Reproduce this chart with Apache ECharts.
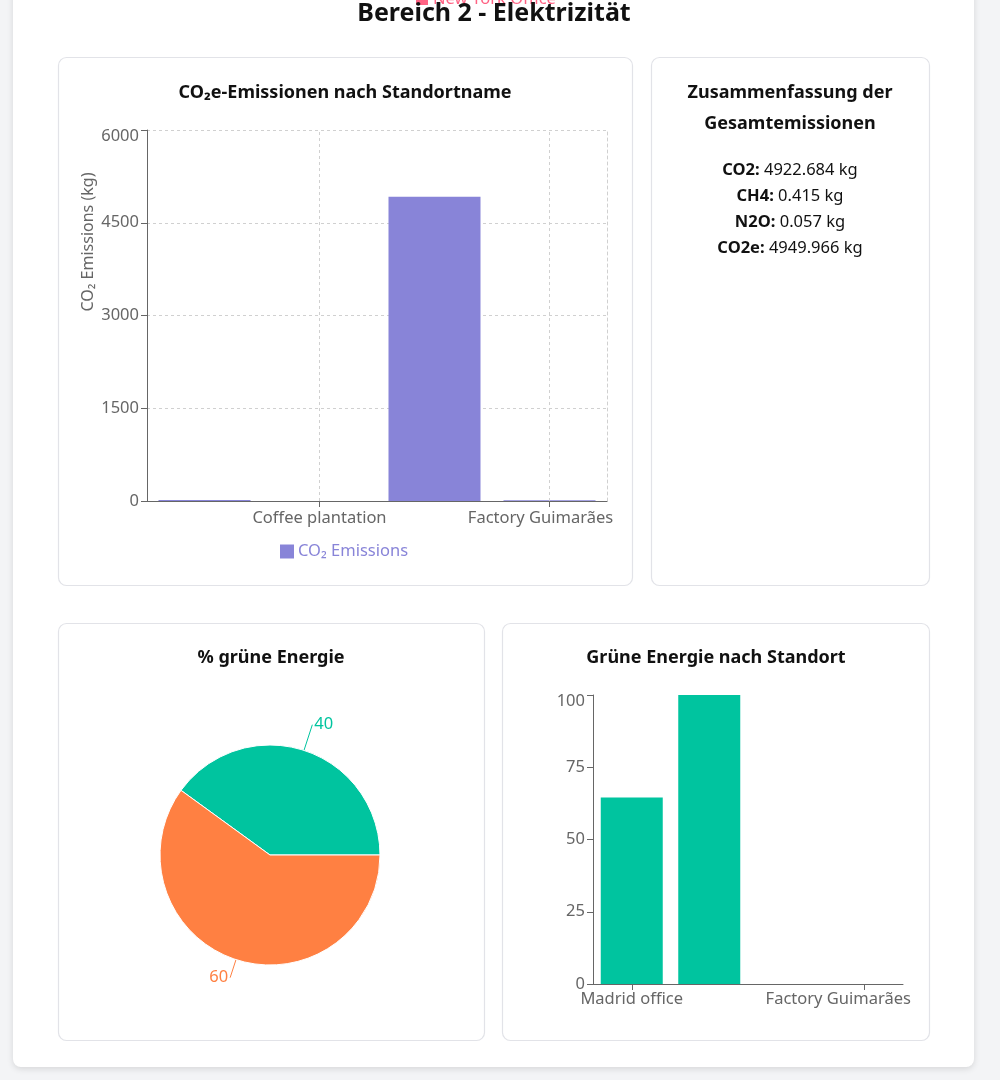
<!DOCTYPE html>
<html><head><meta charset="utf-8">
<script src="https://cdn.jsdelivr.net/npm/echarts@6/dist/echarts.min.js"></script>
<style>html,body{margin:0;padding:0;background:#f3f4f6;overflow:hidden}#c{width:1008px;height:1080px}</style>
</head><body><div id="c"></div>
<script>
// ---- data ----
const sites = ['Madrid office', 'Coffee plantation', 'New York Office', 'Factory Guimarães'];
const co2eBySite = [14.2, 0, 4922.5, 13.3];
const emissionTicks = [0, 1500, 3000, 4500, 6000];
const greenBySite = [64.5, 100, 0, 0];
const greenTicks = [0, 25, 50, 75, 100];
const greenShareNames = ['grün', 'nicht grün'];
const greenShareValues = [40, 60];
const summaryLabels = ['CO2:', 'CH4:', 'N2O:', 'CO2e:'];
const summaryValues = ['4922.684 kg', '0.415 kg', '0.057 kg', '4949.966 kg'];

const FONT = '"Noto Sans", sans-serif';
const AX = 16.5;
const chart = echarts.init(document.getElementById('c'), null, { renderer: 'canvas' });

function card(x, y, w, h) {
  return { type: 'rect', z: -10, shape: { x: x + 0.5, y: y + 0.5, width: w, height: h, r: 8 },
    style: { fill: '#fff', stroke: '#e2e3e8', lineWidth: 1.2 } };
}
function title(x, y, t, size) {
  return { type: 'text', z: 10, x: x, y: y, style: { text: t, font: 'bold ' + (size || 18) + 'px ' + FONT,
    fill: '#111', align: 'center', verticalAlign: 'middle' } };
}
const graphics = [
  { type: 'rect', z: -20, shape: { x: 13, y: -20, width: 961, height: 1087, r: 8 },
    style: { fill: '#fff', shadowBlur: 6, shadowColor: 'rgba(0,0,0,0.12)', shadowOffsetY: 2 } },
  { type: 'rect', z: -20, shape: { x: 1000, y: 0, width: 8, height: 1080 }, style: { fill: '#fff' } },
  { type: 'rect', z: 10, shape: { x: 416, y: -7, width: 12, height: 12 }, style: { fill: '#ff6384' } },
  { type: 'text', z: 10, x: 433, y: -1, style: { text: 'New York Office', font: '16.5px ' + FONT, fill: '#ff6384', verticalAlign: 'middle' } },
  title(494, 14, 'Bereich 2 - Elektrizität', 25),
  card(58, 57, 574, 528),
  card(651, 57, 278, 528),
  card(58, 623, 426, 417),
  card(502, 623, 427, 417),
  title(345, 93, 'CO₂e-Emissionen nach Standortname'),
  title(790, 93, 'Zusammenfassung der'),
  title(790, 124, 'Gesamtemissionen'),
  title(271, 658, '% grüne Energie'),
  title(716, 658, 'Grüne Energie nach Standort'),
  { type: 'text', z: 10, x: 88, y: 242, rotation: Math.PI / 2,
    style: { text: 'CO₂ Emissions (kg)', font: '16px ' + FONT, fill: '#666', align: 'center', verticalAlign: 'middle' } }
];
summaryLabels.forEach((l, i) => {
  graphics.push({ type: 'text', z: 10, x: 790, y: 170 + i * 26,
    style: { text: '{b|' + l + '} ' + summaryValues[i], font: '16.5px ' + FONT, fill: '#111', align: 'center', verticalAlign: 'middle',
      rich: { b: { fontWeight: 'bold', fontSize: 16.5, fontFamily: FONT, fill: '#111' } } } });
});

const axisGray = { lineStyle: { color: '#666', width: 1 } };
const dash = { color: '#d0d0d0', type: [3, 3], width: 1 };
const topShift = (max) => (v) => v === max ? '{t|' + v + '}' : String(v);
const topRich = { t: { color: '#666', fontSize: AX, fontFamily: FONT, padding: [12, 0, 0, 0] } };
const pieLineLen = [27, 19];

function catData(shiftLast) {
  return sites.map((s, i) => i === sites.length - 1
    ? { value: s, textStyle: { padding: [0, shiftLast, 0, 0] } } : s);
}

chart.setOption({
  animation: false,
  textStyle: { fontFamily: FONT },
  graphic: graphics,
  legend: { data: ['CO₂ Emissions'], left: 275, top: 538, icon: 'rect', itemWidth: 14, itemHeight: 14, itemGap: 5,
    textStyle: { color: '#8884d8', fontSize: AX, fontFamily: FONT, padding: [0, 0, 0, -1] } },
  grid: [
    { left: 147, top: 130, width: 460, height: 371 },
    { left: 593, top: 695, width: 310, height: 289 }
  ],
  xAxis: [
    { type: 'category', gridIndex: 0, data: catData(18), boundaryGap: true,
      axisLine: axisGray, axisTick: { show: true, alignWithLabel: true, length: 6, lineStyle: { color: '#666' },
        interval: (i) => i % 2 === 1 },
      axisLabel: { interval: (i) => i % 2 === 1, color: '#666', fontSize: AX, margin: 9 },
      splitLine: { show: false } },
    { type: 'category', gridIndex: 1, data: catData(52), boundaryGap: true,
      axisLine: axisGray, axisTick: { show: true, alignWithLabel: true, length: 6, lineStyle: { color: '#666' },
        interval: (i) => i % 3 === 0 },
      axisLabel: { interval: (i) => i % 3 === 0, color: '#666', fontSize: AX, margin: 7 },
      splitLine: { show: false } }
  ],
  yAxis: [
    { type: 'value', gridIndex: 0, min: emissionTicks[0], max: emissionTicks[emissionTicks.length - 1], interval: 1500,
      axisLine: { show: true, lineStyle: { color: '#666' } }, axisTick: { show: true, length: 6, lineStyle: { color: '#666' } },
      axisLabel: { color: '#666', fontSize: AX, margin: 8, formatter: topShift(6000), rich: topRich },
      splitLine: { show: true, lineStyle: dash } },
    { type: 'value', gridIndex: 0, position: 'right', min: 0, max: 6000, interval: 1500,
      axisLine: { show: true, lineStyle: dash }, axisTick: { show: false }, axisLabel: { show: false }, splitLine: { show: false } },
    { type: 'value', gridIndex: 1, min: greenTicks[0], max: greenTicks[greenTicks.length - 1], interval: 25,
      axisLine: { show: true, lineStyle: { color: '#666' } }, axisTick: { show: true, length: 6, lineStyle: { color: '#666' } },
      axisLabel: { color: '#666', fontSize: AX, margin: 8, formatter: topShift(100), rich: topRich },
      splitLine: { show: false } }
  ],
  series: [
    { name: 'CO₂ Emissions', type: 'bar', xAxisIndex: 0, yAxisIndex: 0, data: co2eBySite,
      barCategoryGap: '20%', itemStyle: { color: '#8884d8' },
      markLine: { silent: true, symbol: 'none', label: { show: false },
        lineStyle: { color: '#d0d0d0', type: [3, 3], width: 1 },
        data: [{ xAxis: 1 }, { xAxis: 3 }] } },
    { name: 'Grüne Energie', type: 'bar', xAxisIndex: 1, yAxisIndex: 2, data: greenBySite,
      barCategoryGap: '20%', itemStyle: { color: '#00C49F' } },
    { name: '% grüne Energie', type: 'pie', center: [270, 855], radius: [0, 110],
      startAngle: 0, clockwise: false,
      data: greenShareNames.map((n, i) => ({ name: n, value: greenShareValues[i], labelLine: { length: pieLineLen[i], length2: 0 } })),
      color: ['#00C49F', '#FF8042'],
      itemStyle: { borderColor: '#fff', borderWidth: 1 },
      label: { show: true, position: 'outside', formatter: '{c}', fontSize: AX, color: 'inherit', distanceToLabelLine: 2 },
      labelLine: { show: true, length: 27, length2: 0, lineStyle: { width: 1 } } }
  ]
});
</script></body></html>
